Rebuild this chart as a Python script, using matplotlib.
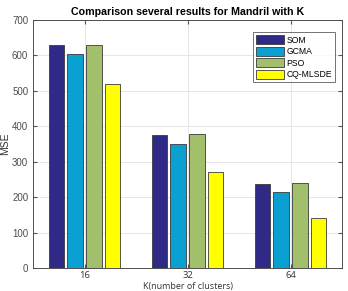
import numpy as np
import matplotlib
matplotlib.use('Agg')
import matplotlib.pyplot as plt

plt.rcParams['font.family'] = ['Liberation Sans', 'DejaVu Sans']

# K values and MSE per method
clusters = ['16', '32', '64']
methods = ['SOM', 'GCMA', 'PSO', 'CQ-MLSDE']
som = [629, 375, 236]
gcma = [605, 349, 215]
pso = [631, 377, 239]
cqmlsde = [520, 272, 141]

colors = ['#2e2a86', '#0aa0d1', '#a2bf6c', '#ffff00']

fig = plt.figure(figsize=(3.48, 2.91), dpi=100)
ax = fig.add_axes([0.095, 0.079, 0.888, 0.852])

x = np.arange(1, len(clusters) + 1)
width = 0.15
step = 0.182
for i, (vals, name) in enumerate(zip([som, gcma, pso, cqmlsde], methods)):
    ax.bar(x + (i - 1.5) * step, vals, width, color=colors[i],
           edgecolor='#3a3a3a', linewidth=0.6, label=name, zorder=3)

ax.set_xlim(0.5, 3.5)
ax.set_ylim(0, 700)
ax.set_yticks(range(0, 701, 100))
ax.set_xticks(x)
ax.set_xticklabels(clusters, fontsize=6.8, color='#333333', family='Open Sans')
ax.tick_params(axis='y', labelsize=7, labelcolor='#4d4d4d', direction='in',
               length=3, color='#555555', right=True)
ax.tick_params(axis='x', direction='in', length=3, color='#555555', top=True, pad=2)
ax.grid(True, color='#e6e6e6', linewidth=0.7, zorder=0)
for s in ax.spines.values():
    s.set_color('#4d4d4d')
    s.set_linewidth(0.7)

ax.set_title('Comparison several results for Mandril with K', fontsize=7.7,
             fontweight='bold', pad=4)
ax.set_ylabel('MSE', fontsize=7.5, color='#333333')
ax.yaxis.set_label_coords(-0.075, 0.5)
ax.set_xlabel('K(number of clusters)', fontsize=6.5, color='#333333',
              family='Open Sans')
ax.xaxis.set_label_coords(0.5, -0.056)

leg = ax.legend(loc='upper right', fontsize=6.2, frameon=True, fancybox=False,
                edgecolor='#333333', handlelength=3.2, handleheight=1.2,
                handletextpad=0.3, borderpad=0.35, labelspacing=0.25,
                bbox_to_anchor=(0.99, 0.968))
leg.get_frame().set_linewidth(0.6)

fig.savefig('out.png', dpi=100)
